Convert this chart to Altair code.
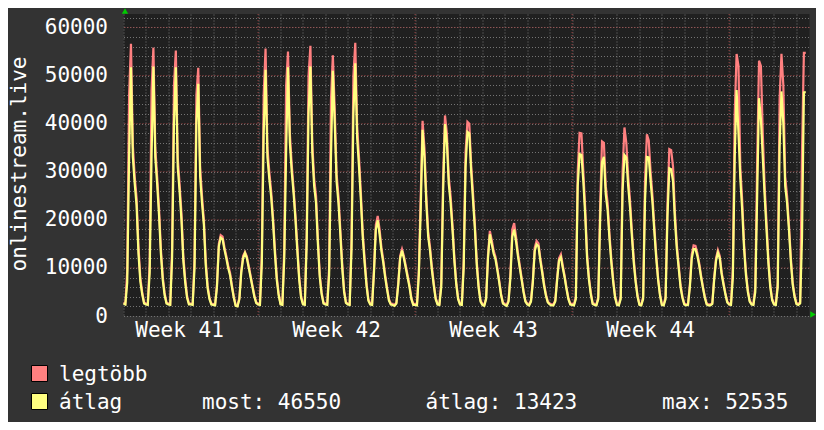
import altair as alt
import pandas as pd

# 2-hour samples (00h, 02h, ... 22h) per day, first day = Tuesday of week 41
avg_by_day = [
    [2600, 2400, 7000, 33000, 51700, 33000, 27500, 23000, 13000, 7200, 4500, 2600],
    [2400, 2300, 9000, 33000, 51900, 33000, 27500, 21000, 13000, 7500, 4300, 2600],
    [2400, 2300, 12000, 40000, 51700, 31000, 26000, 20000, 11500, 7000, 3800, 2400],
    [2400, 2300, 10000, 40000, 48300, 29000, 23500, 19000, 10500, 5800, 3500, 2400],
    [2300, 2200, 6000, 14500, 16300, 16000, 13800, 12000, 10000, 8500, 6000, 3800],
    [2100, 2000, 3500, 9000, 12000, 13100, 12000, 10000, 8000, 6000, 4000, 2700],
    [2400, 2300, 11000, 38000, 51200, 33000, 28500, 24800, 19500, 13000, 7500, 4300],
    [2400, 2300, 12000, 34000, 51700, 36000, 30000, 25500, 20000, 13500, 7500, 3800],
    [2400, 2300, 15000, 42000, 51900, 34000, 27000, 23500, 15000, 8000, 4500, 2600],
    [2400, 2300, 8500, 33000, 51000, 40000, 28000, 23500, 17000, 10000, 5000, 2700],
    [2400, 2300, 14000, 42000, 52535, 37000, 31000, 24000, 16300, 11000, 6300, 3200],
    [2400, 2300, 9000, 18000, 19900, 17000, 13500, 11000, 8000, 5500, 3200, 2400],
    [2300, 2100, 2600, 6500, 12000, 13600, 12000, 10000, 8000, 6000, 3500, 2300],
    [2300, 2200, 8500, 22000, 38700, 33000, 23500, 16500, 13500, 9500, 6300, 3500],
    [2400, 2300, 6000, 26000, 39900, 36000, 27500, 23500, 18000, 11500, 6600, 3500],
    [2400, 2300, 10000, 31000, 38300, 38000, 30000, 24000, 18000, 10500, 5800, 3000],
    [2300, 2100, 3500, 12000, 17000, 15000, 13000, 11800, 9500, 7000, 4300, 2600],
    [2300, 2100, 3000, 8000, 16500, 18000, 15500, 12500, 10000, 7500, 5000, 3000],
    [2400, 2200, 3000, 7000, 13500, 14900, 14500, 11500, 9000, 6300, 4200, 2800],
    [2400, 2200, 2200, 3000, 7500, 11500, 12200, 10000, 8000, 5600, 3500, 2400],
    [2300, 2200, 3500, 27000, 33700, 33500, 28000, 21000, 12000, 7500, 4500, 2500],
    [2300, 2200, 3500, 20000, 32000, 33100, 25300, 22000, 16000, 11000, 7000, 3800],
    [2300, 2200, 3500, 26000, 33500, 33000, 27000, 22500, 16500, 11000, 7000, 4000],
    [2300, 2200, 3500, 24000, 33100, 33000, 28000, 23500, 17500, 12000, 7500, 4300],
    [2300, 2200, 3500, 20500, 30700, 30500, 28000, 20000, 14000, 10000, 6000, 3800],
    [2400, 2200, 2300, 6000, 12000, 13900, 13900, 12500, 10500, 8000, 5800, 3800],
    [2400, 2200, 2200, 2500, 7500, 11500, 13200, 12000, 8700, 6500, 4500, 2800],
    [2400, 2300, 8000, 33000, 47000, 38000, 28500, 22000, 14000, 8500, 5000, 3000],
    [2400, 2300, 5000, 25000, 45300, 41000, 33000, 25000, 18000, 11000, 6000, 3300],
    [2400, 2300, 6000, 35000, 46700, 40000, 27000, 23500, 18000, 11500, 6500, 4000],
    [2500, 2300, 2600, 16300, 46500, 46550],
]

max_by_day = [
    [2800, 2600, 9500, 46000, 56600, 35500, 29000, 24500, 14500, 8000, 5000, 2900],
    [2600, 2500, 11000, 46900, 55800, 35000, 29000, 22500, 14000, 8200, 4800, 2800],
    [2600, 2500, 14000, 48000, 55200, 33000, 27500, 21500, 12500, 7800, 4200, 2600],
    [2600, 2500, 12000, 46000, 51600, 31000, 25000, 20000, 11500, 6300, 3800, 2600],
    [2500, 2400, 6500, 15000, 16800, 16500, 14300, 12500, 10500, 9000, 6400, 4100],
    [2300, 2200, 3800, 9500, 12500, 13300, 12400, 10400, 8400, 6300, 4300, 2900],
    [2600, 2500, 13000, 46000, 55600, 35000, 30000, 26000, 20500, 14000, 8200, 4700],
    [2600, 2500, 14000, 47900, 55000, 38000, 31500, 26500, 21000, 14500, 8200, 4200],
    [2600, 2500, 17000, 50000, 56200, 36000, 28500, 25000, 16000, 8700, 4900, 2800],
    [2600, 2500, 10000, 45000, 54200, 43000, 29500, 25000, 18000, 11000, 5500, 2900],
    [2600, 2500, 16000, 50000, 56800, 39500, 33000, 25500, 17300, 12000, 6900, 3500],
    [2600, 2500, 9800, 19000, 20800, 18000, 14200, 11600, 8500, 5900, 3500, 2600],
    [2500, 2300, 2800, 7000, 12500, 13900, 12500, 10500, 8500, 6400, 3800, 2500],
    [2500, 2400, 9500, 25000, 40600, 35000, 25000, 17500, 14300, 10200, 6800, 3800],
    [2600, 2500, 7000, 29000, 41700, 38000, 29000, 25000, 19000, 12300, 7100, 3800],
    [2600, 2500, 11500, 34000, 40400, 40000, 31500, 25500, 19000, 11300, 6300, 3300],
    [2500, 2300, 3800, 12800, 17700, 15800, 13600, 12300, 10000, 7400, 4600, 2800],
    [2500, 2300, 3300, 8800, 18000, 19300, 16500, 13200, 10500, 7900, 5300, 3200],
    [2600, 2400, 3300, 7500, 14200, 15600, 15100, 12000, 9500, 6700, 4500, 3000],
    [2600, 2400, 2400, 3300, 8000, 12000, 12800, 10500, 8400, 5900, 3800, 2600],
    [2500, 2400, 4000, 30000, 38100, 38000, 30000, 22500, 13000, 8100, 4900, 2700],
    [2500, 2400, 4000, 23000, 36300, 36000, 27000, 23500, 17000, 11800, 7500, 4100],
    [2500, 2400, 4000, 30000, 39200, 36000, 29000, 24000, 17500, 11800, 7500, 4300],
    [2500, 2400, 4000, 28000, 37800, 36500, 30000, 25000, 18500, 12800, 8000, 4600],
    [2500, 2400, 4000, 23000, 34700, 34500, 31000, 21500, 15000, 10700, 6500, 4100],
    [2600, 2400, 2500, 6500, 12800, 14700, 14600, 13100, 11000, 8400, 6100, 4000],
    [2600, 2400, 2400, 2700, 8000, 12000, 13700, 12500, 9100, 6900, 4800, 3000],
    [2600, 2500, 10000, 42000, 54500, 52000, 31000, 24000, 15000, 9200, 5500, 3200],
    [2600, 2500, 6000, 32000, 53100, 52000, 38000, 27000, 19500, 12000, 6500, 3600],
    [2600, 2500, 7000, 45000, 54500, 48000, 29000, 25000, 19000, 12300, 7000, 4300],
    [2700, 2500, 2900, 34400, 54700, 54700],
]

week_labels = ["Week 41", "Week 42", "Week 43", "Week 44"]
week_label_hours = [60, 228, 396, 564]
week_start_hours = [144, 312, 480, 648]
major_y_values = [10000, 20000, 30000, 40000, 50000, 60000]
y_grid_values = list(range(0, 62001, 2000))
day_grid_hours = list(range(0, 734, 24))

series_names = ["legtöbb", "átlag"]
series_colors = ["#ff8080", "#ffff80"]
stat_texts = ["most: 46550", "átlag: 13423", "max: 52535"]

FONT = "DejaVu Sans Mono"
FS = 21
TXT = "#ffffff"
MINOR = "#747474"
MAJOR = "#a04444"

rows = []
for d, (a_day, m_day) in enumerate(zip(avg_by_day, max_by_day)):
    for i, (a, m) in enumerate(zip(a_day, m_day)):
        rows.append({"hour": d * 24 + 2 * i, "avg": a, "max": m})
df = pd.DataFrame(rows)

xscale = alt.Scale(domain=[0, 734], nice=False, zero=False)
yscale = alt.Scale(domain=[0, 62800], nice=False)

x_axis = alt.Axis(values=day_grid_hours, grid=True, gridColor=MINOR,
                  gridDash=[1, 2], gridWidth=1, labels=False, ticks=False,
                  domain=False, title=None)
y_axis = alt.Axis(values=y_grid_values, grid=True, gridColor=MINOR,
                  gridDash=[1, 2], gridWidth=1,
                  labelExpr="datum.value % 10000 == 0 ? format(datum.value, 'd') : ''",
                  labelFont=FONT, labelFontSize=FS, labelColor=TXT,
                  labelPadding=16, labelOverlap=False, labelBound=False,
                  ticks=False, domain=False, title=None)

one = pd.DataFrame({"k": [0]})

hrules = alt.Chart(pd.DataFrame({"v": major_y_values})).mark_rule(
    color=MAJOR, strokeDash=[1, 2], strokeWidth=1
).encode(y=alt.Y("v:Q", scale=yscale, axis=y_axis))

vrules = alt.Chart(pd.DataFrame({"hour": week_start_hours})).mark_rule(
    color=MAJOR, strokeDash=[1, 2], strokeWidth=1
).encode(x=alt.X("hour:Q", scale=xscale, axis=x_axis))

red_line = alt.Chart(df).mark_line(color=series_colors[0], strokeWidth=2.2).encode(
    x=alt.X("hour:Q", scale=xscale, axis=x_axis),
    y=alt.Y("max:Q", scale=yscale, axis=y_axis),
)
yellow_line = alt.Chart(df).mark_line(color=series_colors[1], strokeWidth=2.2).encode(
    x=alt.X("hour:Q", scale=xscale, axis=x_axis),
    y=alt.Y("avg:Q", scale=yscale, axis=y_axis),
)

week_text = alt.Chart(pd.DataFrame({"hour": week_label_hours, "label": week_labels})).mark_text(
    font=FONT, fontSize=FS, color=TXT, align="center", baseline="alphabetic"
).encode(
    x=alt.X("hour:Q", scale=xscale, axis=x_axis),
    y=alt.value(323),
    text="label:N",
)

y_title = alt.Chart(one).mark_text(
    text="onlinestream.live", font=FONT, fontSize=FS, color=TXT,
    angle=270, align="center", baseline="middle"
).encode(x=alt.value(-103.5), y=alt.value(150))


def txt(s, x, y):
    return alt.Chart(one).mark_text(
        text=s, font=FONT, fontSize=FS, color=TXT, align="left", baseline="alphabetic"
    ).encode(x=alt.value(x), y=alt.value(y))


def square(color, x, y):
    return alt.Chart(one).mark_point(
        shape="square", filled=True, fill=color, stroke="#000000", strokeWidth=1,
        size=256, opacity=1
    ).encode(x=alt.value(x), y=alt.value(y))


legend_layers = [
    square(series_colors[0], -84, 359.5),
    square(series_colors[1], -84, 387.5),
    txt(series_names[0], -64.5, 367),
    txt(series_names[1], -64.5, 395),
    txt(stat_texts[0], 78.5, 395),
    txt(stat_texts[1], 302, 395),
    txt(stat_texts[2], 538.5, 395),
]

arrow_up = alt.Chart(one).mark_point(
    shape="triangle-up", filled=True, color="#00cc00", size=40, opacity=1
).encode(x=alt.value(1.5), y=alt.value(-3))
arrow_right = alt.Chart(one).mark_point(
    shape="triangle-right", filled=True, color="#00cc00", size=40, opacity=1
).encode(x=alt.value(689.5), y=alt.value(300.5))

chart = alt.layer(
    hrules, vrules, red_line, yellow_line, week_text, y_title,
    *legend_layers, arrow_up, arrow_right
).properties(
    width=686, height=302,
    padding={"left": 115.5, "top": 6, "right": 6.5, "bottom": 106},
    autosize="none",
    background="#333333",
).configure_view(fill="#202020", strokeWidth=0)

chart.save("out.html", embed_options={"renderer": "svg", "actions": False})
